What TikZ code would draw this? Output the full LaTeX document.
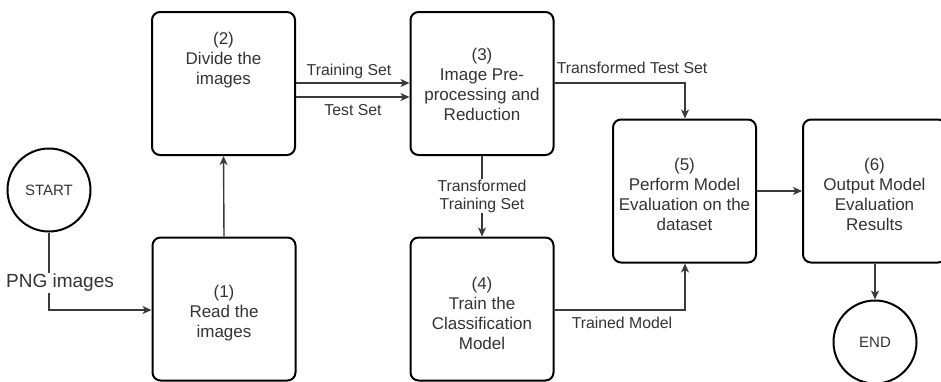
\documentclass[tikz,border=0pt]{standalone}
\usepackage{fontspec}
\setmainfont{Liberation Sans}
\usetikzlibrary{arrows.meta,calc}
\definecolor{txt}{HTML}{333333}
\definecolor{linec}{HTML}{3A3A3A}
\tikzset{
  stepbox/.style={draw=black, line width=2pt, rounded corners=8pt,
    minimum width=143pt, minimum height=143pt, inner sep=0pt},
  endpoint/.style={draw=black, line width=2pt, circle, minimum size=83pt,
    inner sep=0pt, text=txt, font=\fontsize{15pt}{18pt}\selectfont},
  boxtext/.style={align=center, text=txt, inner sep=0pt,
    font=\fontsize{17pt}{20pt}\selectfont},
  flow/.style={draw=linec, line width=1.4pt, -{Stealth[length=9pt,width=8pt,inset=2.5pt]}},
  edgelbl/.style={text=txt, align=center, inner sep=1pt,
    font=\fontsize{15.8pt}{18pt}\selectfont},
  onlinelbl/.style={edgelbl, fill=white}
}
\begin{document}
\begin{tikzpicture}[x=1pt, y=-1pt]
\useasboundingbox (0,0) rectangle (941,381);

% process boxes
\node[stepbox] (b1) at (224,309) {};
\node[stepbox] (b2) at (223.5,83.5) {};
\node[stepbox] (b3) at (482,83.5) {};
\node[stepbox] (b4) at (482,309) {};
\node[stepbox] (b5) at (684.5,191) {};
\node[stepbox] (b6) at (874.5,191) {};

% box captions
\node[boxtext] (t1) at (224,313) {(1)\\Read the\\images};
\node[boxtext] (t2) at (223.5,60) {(2)\\Divide the\\images};
\node[boxtext] (t3) at (482,84) {(3)\\Image Pre-\\processing and\\Reduction};
\node[boxtext] (t4) at (482,313) {(4)\\Train the\\Classification\\Model};
\node[boxtext] (t5) at (684.5,194) {(5)\\Perform Model\\Evaluation on the\\dataset};
\node[boxtext] (t6) at (874.5,194) {(6)\\Output Model\\Evaluation\\Results};

% terminals
\node[endpoint] (start) at (49,190) {START};
\node[endpoint] (end) at (875,342) {END};

% connectors
\coordinate (pngturn) at (49,310);
\draw[flow] (start.south) -- (pngturn) -- (b1.west |- pngturn);
\node[onlinelbl, font=\fontsize{19pt}{22pt}\selectfont] (png) at (60,283) {PNG images};

\draw[flow] (b1.north) -- (b2.south);

% the two data splits leave box 2 side by side
\coordinate (trainrow) at (0,83);
\coordinate (testrow) at (0,97);
\draw[flow] (b2.east |- trainrow) -- (b3.west |- trainrow);
\draw[flow] (b2.east |- testrow) -- (b3.west |- testrow);
\node[edgelbl] (ltrain) at (349,71) {Training Set};
\node[edgelbl] (ltest) at (353,110) {Test Set};

\coordinate (tts) at (685,83);
\draw[flow] (b3.east |- tts) -- (tts) -- (b5.north -| tts);
\node[edgelbl] (ltts) at (632,68) {Transformed Test Set};

\draw[flow] (b3.south) -- (b4.north);
\node[onlinelbl] (ltrs) at (482,196) {Transformed\\Training Set};

\coordinate (tm) at (685,310);
\draw[flow] (b4.east |- tm) -- (tm) -- (b5.south -| tm);
\node[edgelbl] (ltm) at (622,323) {Trained Model};

\draw[flow] (b5.east) -- (b6.west);
\draw[flow] (b6.south -| end) -- (end.north);
\end{tikzpicture}
\end{document}
